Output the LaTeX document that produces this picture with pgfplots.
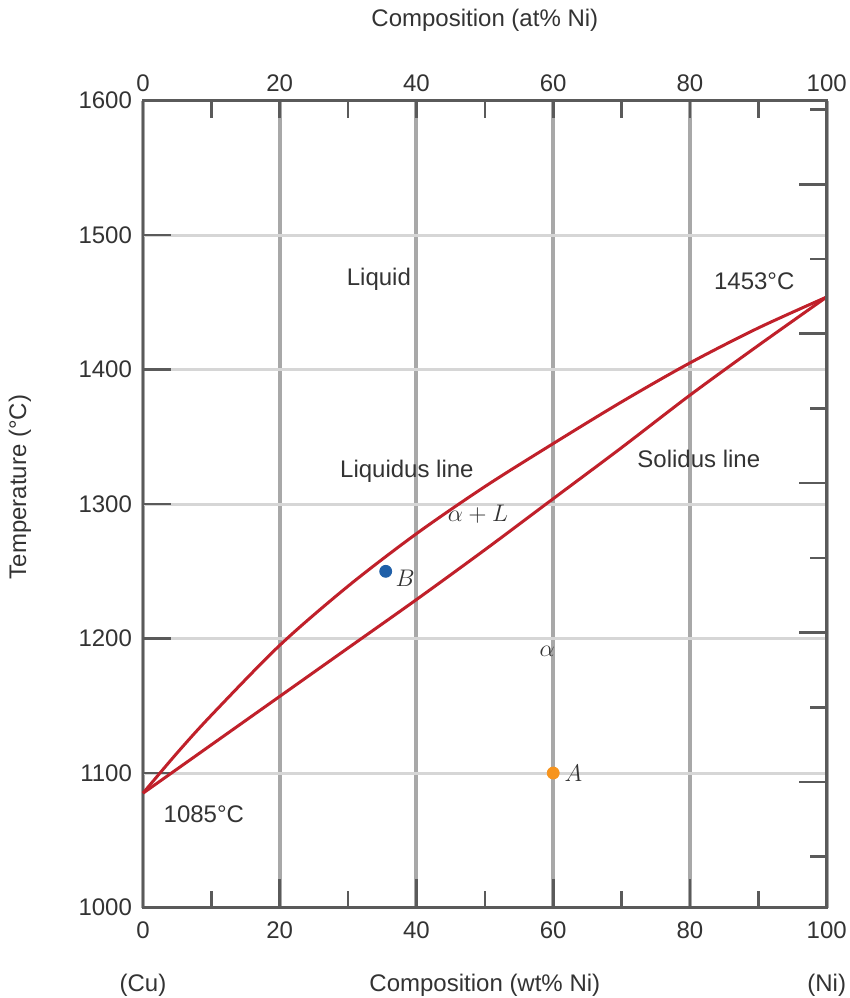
\documentclass[border=0pt]{standalone}
\usepackage{pgfplots}
\pgfplotsset{compat=1.18}
\usepackage{fontspec}
\setmainfont{Liberation Sans}
\definecolor{curve}{HTML}{C0202A}
\definecolor{spine}{HTML}{5A5A5A}
\definecolor{vgrid}{HTML}{A8A8A8}
\definecolor{hgrid}{HTML}{D6D6D6}
\definecolor{ptB}{HTML}{1F5FA8}
\definecolor{ptA}{HTML}{F7941D}
\definecolor{txt}{HTML}{333333}
\begin{document}
\begin{tikzpicture}
\path[use as bounding box] (-71.5pt,-45.25pt) rectangle (353.5pt,453.75pt);
\pgfplotsset{
  common/.style={
    at={(0pt,0pt)}, anchor=south west,
    scale only axis, width=341.85pt, height=403.4pt,
    xmin=0, xmax=100, ymin=1000, ymax=1600,
    axis line style={spine, line width=1.3pt},
    tick style={spine, line width=1.3pt},
    tick align=inside,
    /pgf/number format/assume math mode=true,
    /pgf/number format/1000 sep={},
    ticklabel style={font=\fontsize{12}{14}\selectfont, text=txt},
    label style={font=\fontsize{12}{14}\selectfont, text=txt},
  }
}
\begin{axis}[common,
  xtick={0,20,...,100}, ytick={1000,1100,...,1600},
  minor x tick num=1,
  xtick pos=bottom, ytick pos=left,
  major tick length=14pt, minor tick length=8.5pt,
  grid=major,
  major x grid style={vgrid, line width=2pt},
  major y grid style={hgrid, line width=1.5pt},
  xticklabel style={yshift=-3.5pt},
  yticklabel style={xshift=-2pt},
  xlabel={Composition (wt\% Ni)},
  xlabel style={at={(axis description cs:0.5,0)}, anchor=center, yshift=-38.75pt},
  clip=false,
]
% Liquidus
\addplot[curve, line width=1.5pt, smooth] coordinates {
  (0,1085) (5,1115) (10,1143) (20,1195) (30,1239) (40,1278) (50,1313)
  (60,1345) (70,1376) (80,1405) (90,1431) (100,1454)};
% Solidus
\addplot[curve, line width=1.5pt, smooth] coordinates {
  (0,1085) (10,1121) (20,1157) (30,1193) (40,1229) (50,1266)
  (60,1304) (70,1342) (80,1381) (90,1418) (100,1454)};
\addplot[only marks, mark=*, mark size=3pt, ptB] coordinates {(35.5,1250)};
\addplot[only marks, mark=*, mark size=3pt, ptA] coordinates {(60,1100)};
\begin{scope}[every node/.style={font=\fontsize{12}{14}\selectfont, text=txt}]
\node at (axis cs:34.5,1467) {Liquid};
\node at (axis cs:89.4,1466) {1453°C};
\node at (axis cs:38.6,1324.5) {Liquidus line};
\node at (axis cs:81.3,1333.5) {Solidus line};
\node at (axis cs:49,1292.5) {$\alpha+L$};
\node at (axis cs:59.1,1190.5) {$\alpha$};
\node at (axis cs:8.9,1069) {1085°C};
\node[anchor=west, inner sep=0pt] at (axis cs:36.9,1245) {$B$};
\node[anchor=west, inner sep=0pt] at (axis cs:61.6,1100) {$A$};
\node at ([yshift=-38.75pt]axis description cs:0,0) {(Cu)};
\node at ([yshift=-38.75pt]axis description cs:1,0) {(Ni)};
\node[rotate=90] at ([xshift=-61.5pt, yshift=8.5pt]axis description cs:0,0.5) {Temperature (°C)};
\end{scope}
\end{axis}
% top axis (at% Ni)
\begin{axis}[common,
  axis x line*=top, axis y line=none,
  xtick={0,20,...,100}, minor x tick num=1,
  major tick length=8.5pt, minor tick length=8.5pt,
  xticklabel style={yshift=1pt},
  xlabel={Composition (at\% Ni)},
  xlabel style={at={(axis description cs:0.5,1)}, anchor=center, yshift=40.35pt},
]
\end{axis}
% right ticks (temperature scale, labels cut off)
\begin{axis}[common,
  axis y line*=right, axis x line=none,
  ytick={1093.3,1204.4,1315.6,1426.7,1537.8},
  yticklabels={},
  major tick length=14pt,
  extra y ticks={1037.8,1148.9,1260,1371.1,1482.2,1593.3},
  extra y tick labels={},
  extra y tick style={major tick length=8.5pt},
]
\end{axis}
\end{tikzpicture}
\end{document}
